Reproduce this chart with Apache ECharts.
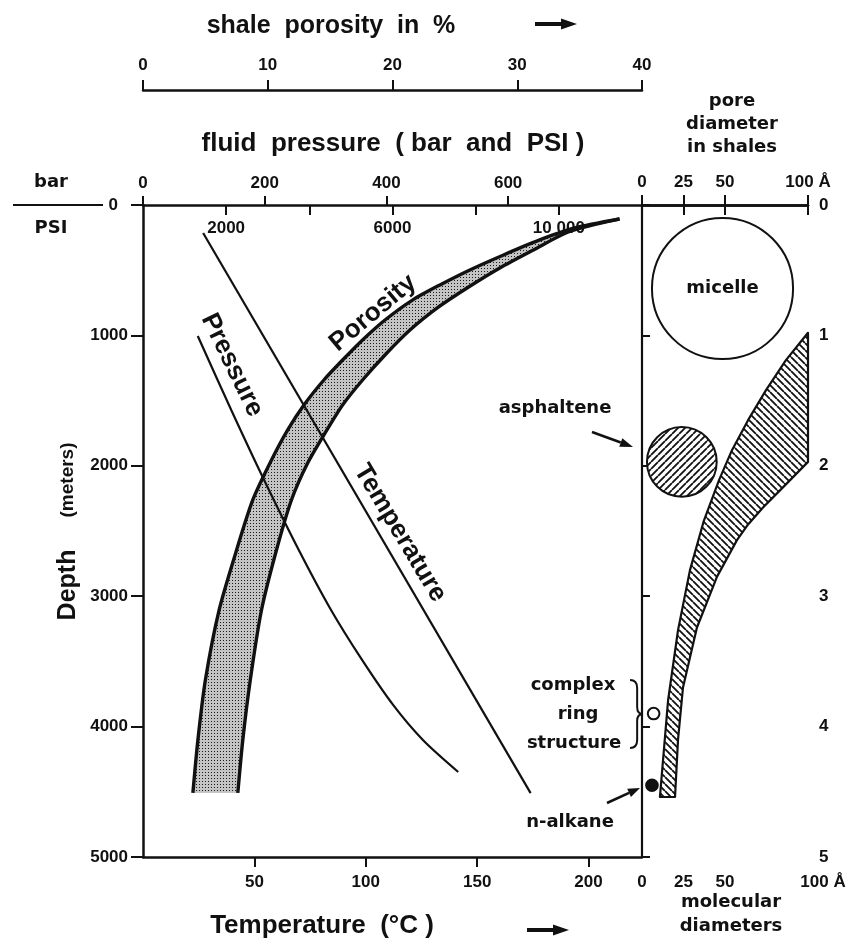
<!DOCTYPE html>
<html>
<head>
<meta charset="utf-8">
<script src="https://cdn.jsdelivr.net/npm/echarts@6/dist/echarts.min.js"></script>
<style>
  html, body { margin: 0; padding: 0; background: #fff; }
  #chart { width: 847px; height: 947px; }
</style>
</head>
<body>
<div id="chart"></div>
<script>
// ---- depth profiles (left panel) ----
// fluid pressure, bar vs depth in metres
const pressureBar   = [90, 145, 199, 256, 309, 360, 411, 460, 518];
const pressureDepth = [1005, 1572, 2109, 2646, 3106, 3489, 3834, 4103, 4348];

// temperature, °C vs depth in metres
const temperatureC     = [27, 174];
const temperatureDepth = [215, 4510];

// shale porosity envelope, % vs depth in metres
const porosityMinPct   = [38.2, 34.6, 31.8, 28.9, 26.2, 23.8, 21.6, 19.4, 17.6, 16.0, 14.5, 12.9, 11.6, 10.3, 8.8, 7.5, 6.1, 5.0, 4.4, 4.0];
const porosityMinDepth = [107, 176, 268, 383, 498, 613, 729, 882, 1035, 1189, 1342, 1534, 1725, 1956, 2262, 2646, 3106, 3643, 4103, 4509];
const porosityMaxPct   = [38.2, 34.1, 31.3, 28.6, 26.1, 23.7, 21.4, 19.4, 17.6, 16.0, 14.6, 13.2, 11.9, 10.7, 9.5, 8.6, 8.0, 7.6];
const porosityMaxDepth = [107, 207, 345, 483, 629, 782, 959, 1150, 1342, 1534, 1748, 1979, 2262, 2646, 3106, 3643, 4103, 4509];

// ---- pore diameters in shales (right panel), Å vs depth in km ----
const poreMinA  = [100, 86.7, 74.7, 63.9, 54.2, 46.4, 37.3, 28.9, 21.7, 15.7, 10.8];
const poreMinKm = [0.98, 1.19, 1.42, 1.65, 1.88, 2.11, 2.42, 2.80, 3.26, 3.80, 4.54];
const poreMaxA  = [100, 100, 86.1, 72.9, 63.9, 57.2, 45.2, 33.1, 24.7, 21.7, 19.9];
const poreMaxKm = [0.98, 1.97, 2.15, 2.32, 2.45, 2.57, 2.85, 3.24, 3.70, 4.10, 4.54];

// molecules: position (Å, km) and molecular diameter (Å)
const moleculeNames     = ['micelle', 'asphaltene', 'complex ring structure', 'n-alkane'];
const moleculeX         = [48.5, 24, 7, 6];
const moleculeDepthKm   = [0.64, 1.97, 3.90, 4.45];
const moleculeDiameterA = [85, 42, 7, 7];

// ---- axis ticks ----
const barTicks         = [0, 200, 400, 600];
const psiTicks         = [2000, 4000, 6000, 8000, 10000];
const psiLabels        = [2000, 6000, 10000];
const porosityTicks    = [0, 10, 20, 30, 40];
const temperatureTicks = [50, 100, 150, 200];
const angstromTicks    = [0, 25, 50, 100];

const INK = '#111';
const SANS = '"Liberation Sans", Arial, sans-serif';
const WIDE = '"DejaVu Sans", Verdana, sans-serif';

function makePattern(size, draw) {
  const c = document.createElement('canvas');
  c.width = size; c.height = size;
  draw(c.getContext('2d'), size);
  return { image: c, repeat: 'repeat' };
}
const stipple = makePattern(3, (g, s) => {
  g.fillStyle = '#c4c4c4'; g.fillRect(0, 0, s, s);
  g.fillStyle = '#1a1a1a'; g.fillRect(1, 1, 1, 1);
});
function hatch(back) {
  return makePattern(7, (g, s) => {
    g.fillStyle = '#fff'; g.fillRect(0, 0, s, s);
    g.strokeStyle = INK; g.lineWidth = 1.8;
    g.beginPath();
    for (const k of [-s, 0, s]) {
      if (back) { g.moveTo(k, 0); g.lineTo(k + s, s); }
      else { g.moveTo(k, s); g.lineTo(k + s, 0); }
    }
    g.stroke();
  });
}
const hatchBack = hatch(true);
const hatchFwd = hatch(false);

const tickFont = { fontFamily: SANS, fontWeight: 'bold', fontSize: 17, color: INK };
const axisLine = (w) => ({ show: true, lineStyle: { color: INK, width: w } });
const tick = (len, values, inside) => ({ show: true, inside: !!inside, length: len, customValues: values, lineStyle: { color: INK, width: 2 } });

function zip(a, b) { return a.map((v, i) => [v, b[i]]); }

function arrow(x1, y1, x2, y2, head, width, shaft) {
  const dx = x2 - x1, dy = y2 - y1, L = Math.hypot(dx, dy);
  const ux = dx / L, uy = dy / L, nx = -uy, ny = ux;
  const bx = x2 - ux * head, by = y2 - uy * head;
  return [
    { type: 'line', shape: { x1, y1, x2: bx, y2: by }, style: { stroke: INK, lineWidth: shaft } },
    { type: 'polygon', shape: { points: [[x2, y2], [bx + nx * width / 2, by + ny * width / 2], [bx - nx * width / 2, by - ny * width / 2]] }, style: { fill: INK } }
  ];
}
function label(text, x, y, font, rotationDeg) {
  return { type: 'text', x, y, rotation: (rotationDeg || 0) * Math.PI / 180,
    style: { text, fill: INK, font, align: 'center', verticalAlign: 'middle' } };
}
// right-pointing curly brace built from curve and line pieces
function brace(x, yTop, yBottom, depth) {
  const ym = (yTop + yBottom) / 2, xs = x + depth * 0.55, st = { stroke: INK, lineWidth: 2, fill: null };
  return [
    { type: 'bezierCurve', shape: { x1: x, y1: yTop, cpx1: xs, cpy1: yTop, x2: xs, y2: yTop + 8 }, style: st },
    { type: 'line', shape: { x1: xs, y1: yTop + 8, x2: xs, y2: ym - 7 }, style: st },
    { type: 'bezierCurve', shape: { x1: xs, y1: ym - 7, cpx1: xs, cpy1: ym, x2: x + depth, y2: ym }, style: st },
    { type: 'bezierCurve', shape: { x1: x + depth, y1: ym, cpx1: xs, cpy1: ym, x2: xs, y2: ym + 7 }, style: st },
    { type: 'line', shape: { x1: xs, y1: ym + 7, x2: xs, y2: yBottom - 8 }, style: st },
    { type: 'bezierCurve', shape: { x1: xs, y1: yBottom - 8, cpx1: xs, cpy1: yBottom, x2: x, y2: yBottom }, style: st }
  ];
}

const option = {
  animation: false,
  backgroundColor: '#fff',
  grid: [
    { left: 143, top: 205, width: 499, height: 652, outerBoundsMode: 'none', containLabel: false },
    { left: 642, top: 205, width: 166, height: 652, outerBoundsMode: 'none', containLabel: false }
  ],
  xAxis: [
    { // 0: fluid pressure, bar
      gridIndex: 0, type: 'value', position: 'top', min: 0, max: 820,
      axisLine: axisLine(2.5), axisTick: tick(9, barTicks),
      axisLabel: Object.assign({ margin: 13, customValues: barTicks }, tickFont),
      splitLine: { show: false }
    },
    { // 1: fluid pressure, PSI
      gridIndex: 0, type: 'value', position: 'top', min: 0, max: 12000,
      axisLine: { show: false }, axisTick: tick(10, psiTicks, true),
      axisLabel: { inside: true, margin: 15, customValues: psiLabels,
        formatter: (v) => v === 10000 ? '10 000' : String(v),
        fontFamily: SANS, fontWeight: 'bold', fontSize: 17, color: INK },
      splitLine: { show: false }
    },
    { // 2: shale porosity, %
      gridIndex: 0, type: 'value', position: 'top', offset: 115, min: 0, max: 40,
      axisLine: axisLine(2.5), axisTick: tick(10, porosityTicks),
      axisLabel: Object.assign({ margin: 16, customValues: porosityTicks }, tickFont),
      splitLine: { show: false }
    },
    { // 3: temperature, °C
      gridIndex: 0, type: 'value', position: 'bottom', min: 0, max: 224,
      axisLine: axisLine(2.5), axisTick: tick(10, temperatureTicks),
      axisLabel: Object.assign({ margin: 17, customValues: temperatureTicks }, tickFont),
      splitLine: { show: false }
    },
    { // 4: pore diameter, Å
      gridIndex: 1, type: 'value', position: 'top', min: 0, max: 100,
      axisLine: axisLine(2.5), axisTick: tick(10, angstromTicks),
      axisLabel: Object.assign({ margin: 14, customValues: angstromTicks,
        formatter: (v) => v === 100 ? '100 Å' : String(v) }, tickFont),
      splitLine: { show: false }
    },
    { // 5: molecular diameter, Å
      gridIndex: 1, type: 'value', position: 'bottom', min: 0, max: 100,
      axisLine: axisLine(2.5), axisTick: tick(10, angstromTicks),
      axisLabel: Object.assign({ margin: 17, customValues: angstromTicks,
        formatter: (v) => v === 100 ? '{r|100 Å}' : String(v),
        rich: { r: Object.assign({ padding: [0, 0, 0, 30] }, tickFont) } }, tickFont),
      splitLine: { show: false }
    }
  ],
  yAxis: [
    { // 0: depth, m
      gridIndex: 0, type: 'value', inverse: true, min: 0, max: 5000, interval: 1000,
      axisLine: axisLine(2.5),
      axisTick: { show: true, length: 12, lineStyle: { color: INK, width: 2 } },
      axisLabel: Object.assign({ margin: 15,
        formatter: (v) => v === 0 ? '{z|0}' : String(v),
        rich: { z: Object.assign({ padding: [0, 10, 0, 0] }, tickFont) } }, tickFont),
      splitLine: { show: false }
    },
    { // 1: depth, km
      gridIndex: 1, type: 'value', position: 'right', inverse: true, min: 0, max: 5, interval: 1,
      axisLine: axisLine(2.2),
      axisTick: { show: true, length: 8, lineStyle: { color: INK, width: 2 } },
      axisLabel: Object.assign({ margin: 11 }, tickFont),
      splitLine: { show: false }
    },
    { // 2: panel divider
      gridIndex: 1, type: 'value', position: 'left', inverse: true, min: 0, max: 5,
      axisLine: axisLine(1.6), axisTick: { show: false }, axisLabel: { show: false },
      splitLine: { show: false }
    }
  ],
  series: [
    { // porosity envelope fill
      type: 'custom', xAxisIndex: 2, yAxisIndex: 0, z: 1, silent: true,
      data: zip(porosityMinPct, porosityMinDepth),
      encode: { x: 0, y: 1 },
      renderItem: (params, api) => {
        if (params.dataIndex !== 0) return null;
        const pts = porosityMinPct.map((v, i) => api.coord([v, porosityMinDepth[i]]));
        for (let i = porosityMaxPct.length - 1; i >= 0; i--) pts.push(api.coord([porosityMaxPct[i], porosityMaxDepth[i]]));
        return { type: 'polygon', shape: { points: pts }, style: { fill: stipple, stroke: null } };
      }
    },
    { type: 'line', xAxisIndex: 2, yAxisIndex: 0, z: 3, smooth: 0.25, showSymbol: false, silent: true,
      data: zip(porosityMinPct, porosityMinDepth), lineStyle: { color: INK, width: 3.4 } },
    { type: 'line', xAxisIndex: 2, yAxisIndex: 0, z: 3, smooth: 0.25, showSymbol: false, silent: true,
      data: zip(porosityMaxPct, porosityMaxDepth), lineStyle: { color: INK, width: 3.4 } },
    { type: 'line', xAxisIndex: 0, yAxisIndex: 0, z: 4, smooth: 0.3, showSymbol: false, silent: true,
      data: zip(pressureBar, pressureDepth), lineStyle: { color: INK, width: 2.2 } },
    { type: 'line', xAxisIndex: 3, yAxisIndex: 0, z: 4, showSymbol: false, silent: true,
      data: zip(temperatureC, temperatureDepth), lineStyle: { color: INK, width: 2.2 } },
    { // pore diameter envelope
      type: 'custom', xAxisIndex: 4, yAxisIndex: 1, z: 2, silent: true,
      data: zip(poreMinA, poreMinKm),
      encode: { x: 0, y: 1 },
      renderItem: (params, api) => {
        if (params.dataIndex !== 0) return null;
        const pts = poreMinA.map((v, i) => api.coord([v, poreMinKm[i]]));
        for (let i = poreMaxA.length - 1; i >= 0; i--) pts.push(api.coord([poreMaxA[i], poreMaxKm[i]]));
        return { type: 'polygon', shape: { points: pts },
          style: { fill: hatchBack, stroke: INK, lineWidth: 2.2, lineJoin: 'round' } };
      }
    },
    { // molecule sizes
      type: 'custom', xAxisIndex: 5, yAxisIndex: 1, z: 3, silent: true,
      data: moleculeX.map((x, i) => [x, moleculeDepthKm[i], moleculeDiameterA[i]]),
      encode: { x: 0, y: 1 },
      renderItem: (params, api) => {
        const i = params.dataIndex;
        const c = api.coord([api.value(0), api.value(1)]);
        const r = api.size([api.value(2), 0])[0] / 2;
        const fill = [null, hatchFwd, null, INK][i] || '#fff';
        const children = [{ type: 'circle', shape: { cx: c[0], cy: c[1], r },
          style: { fill, stroke: INK, lineWidth: 2 } }];
        if (i === 0) {
          children.push({ type: 'text', style: { text: moleculeNames[0], x: c[0], y: c[1],
            align: 'center', verticalAlign: 'middle', fill: INK, font: 'bold 18px ' + WIDE } });
        }
        return { type: 'group', children };
      }
    }
  ],
  graphic: { elements: [
    label('shale  porosity  in  %', 331, 26, 'bold 25px ' + SANS),
    { type: 'group', children: arrow(535, 24, 577, 24, 16, 11, 4) },
    label('fluid  pressure  ( bar  and  PSI )', 393, 144, 'bold 26px ' + SANS),
    label('pore', 732, 101, 'bold 18px ' + WIDE),
    label('diameter', 732, 124, 'bold 18px ' + WIDE),
    label('in shales', 732, 147, 'bold 18px ' + WIDE),
    label('bar', 51, 182, 'bold 18px ' + WIDE),
    label('PSI', 51, 228, 'bold 18px ' + WIDE),
    { type: 'line', shape: { x1: 13, y1: 205, x2: 103, y2: 205 }, style: { stroke: INK, lineWidth: 2 } },
    label('Depth', 68, 585, 'bold 25px ' + SANS, 90),
    label('(meters)', 68, 480, 'bold 19px ' + SANS, 90),
    label('Temperature  (°C )', 322, 926, 'bold 26px ' + SANS),
    { type: 'group', children: arrow(527, 930, 569, 930, 16, 11, 4) },
    label('molecular', 731, 902, 'bold 18px ' + WIDE),
    label('diameters', 731, 926, 'bold 18px ' + WIDE),
    label('Porosity', 373, 313, 'bold 26px ' + SANS, 40),
    label('Pressure', 232, 365, 'bold 26px ' + SANS, -64),
    label('Temperature', 400, 533, 'bold 26px ' + SANS, -59),
    label('asphaltene', 555, 408, 'bold 18px ' + WIDE),
    { type: 'group', children: arrow(592, 432, 633, 447, 13, 9, 2.5) },
    label('complex', 573, 685, 'bold 18px ' + WIDE),
    label('ring', 578, 714, 'bold 18px ' + WIDE),
    label('structure', 574, 743, 'bold 18px ' + WIDE),
    { type: 'group', children: brace(630, 680, 748, 13) },
    label('n-alkane', 570, 822, 'bold 18px ' + WIDE),
    { type: 'group', children: arrow(607, 803, 640, 788, 12, 9, 2.5) }
  ] }
};

const chart = echarts.init(document.getElementById('chart'), null, { renderer: 'canvas' });
chart.setOption(option);
</script>
</body>
</html>
